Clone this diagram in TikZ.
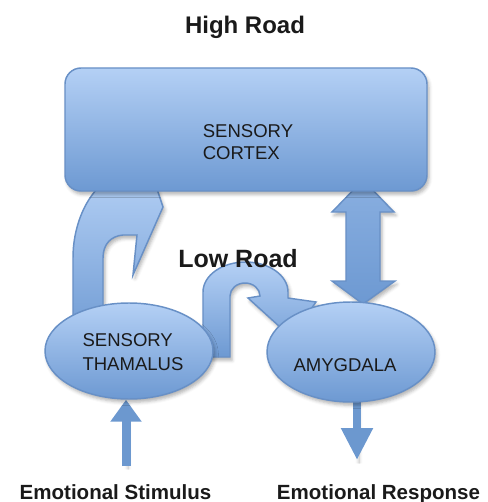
\documentclass[tikz,border=0pt]{standalone}
\usepackage{fontspec}
\setmainfont{Liberation Sans}
\usetikzlibrary{shapes.geometric,arrows.meta,shadows.blur}
\pgfdeclarelayer{bg}
\pgfsetlayers{bg,main}

\definecolor{boxtop}{HTML}{B4D0F5}
\definecolor{boxbot}{HTML}{6D99D2}
\definecolor{edgeblue}{HTML}{6890C6}
\definecolor{arrowblue}{HTML}{6C98CF}
\definecolor{ink}{HTML}{1A1A1A}

\begin{document}
\begin{tikzpicture}[x=0.75pt,y=-0.75pt,
  softshadow/.style={blur shadow={shadow xshift=1.5pt, shadow yshift=-2.5pt,
      shadow blur radius=2.5pt, shadow opacity=30}},
  region/.style={draw=edgeblue, line width=1.1pt, top color=boxtop,
      bottom color=boxbot, softshadow},
  blockarrow/.style={draw=edgeblue, line width=1.1pt, top color=boxtop,
      bottom color=boxbot, softshadow},
  thinarrow/.style={draw=arrowblue, fill=arrowblue, softshadow},
  bodytext/.style={text=ink, inner sep=0pt, align=left,
      font=\fontsize{13.9pt}{16.5pt}\selectfont},
  headtext/.style={text=ink, inner sep=0pt, font=\bfseries\fontsize{18pt}{20pt}\selectfont},
  endtext/.style={text=ink, inner sep=0pt, font=\bfseries\fontsize{15.4pt}{18pt}\selectfont}]

\useasboundingbox (0,0) rectangle (487,502);

% brain regions
\node[region, rounded corners=12pt, minimum width=271.5pt, minimum height=92.25pt]
  (cortex) at (246,129.5) {};
\node[region, ellipse, minimum width=126pt, minimum height=72pt] (thal) at (129,351) {};
\node[region, ellipse, minimum width=126pt, minimum height=75pt] (amyg) at (351,352) {};

% region names
\node[bodytext] (cortextext) at (248,142.5) {SENSORY\\CORTEX};
\node[bodytext, font=\fontsize{13.9pt}{18pt}\selectfont] (thaltext) at (133,352.5) {SENSORY\\THAMALUS};
\node[bodytext] (amygtext) at (345,365) {AMYGDALA};

% road titles and end labels
\node[headtext, anchor=base] (high) at (245,34) {High Road};
\node[headtext, font=\bfseries\fontsize{18.75pt}{20pt}\selectfont, anchor=base] (low) at (238,267) {Low Road};
\node[endtext, anchor=base] (stim) at (115.5,499.5) {Emotional Stimulus};
\node[endtext, anchor=base] (resp) at (378.5,499.5) {Emotional Response};

\coordinate (stimtail) at (126,466);
\coordinate (resptip) at (357,460);

\begin{pgfonlayer}{bg}
  % high road: curved arrow from the thalamus up into the cortex
  \path[blockarrow] (73,345) -- (73,258) .. controls (73,228) and (84,203) .. (97,189)
    -- (118,172) -- (150,172) -- (158,192) -- (163,207) -- (133,275) -- (137,235)
    -- (123,235) .. controls (111,236) and (103,244) .. (103,258) -- (103,345) -- cycle;

  % low road: arch from the thalamus over to the amygdala
  \path[blockarrow] (230,357) -- (230,296)
    arc[start angle=180, end angle=360, x radius=15, y radius=13]
    -- (248,298) -- (291,337) -- (316,302) -- (288,298) -- (288,292)
    arc[start angle=0, end angle=-180, x radius=42.5, y radius=30]
    -- (203,357) -- cycle;

  % two-way link between cortex and amygdala
  \path[blockarrow, top color=boxbot!60!boxtop, middle color=boxtop!90!white, bottom color=boxbot]
    (363,180) -- (394,212) -- (380,212) -- (380,281) -- (395,281) -- (363,304)
    -- (332,281) -- (346,281) -- (346,212) -- (332,212) -- cycle;

  % stimulus in, response out
  \draw[thinarrow, line width=6.75pt, -{Triangle[length=16.5pt,width=22.5pt]}]
    (stimtail) -- (stimtail |- thal.south);
  \draw[thinarrow, line width=6pt, -{Triangle[length=24pt,width=22.5pt]}]
    (resptip |- amyg.center) -- (resptip);
\end{pgfonlayer}
\end{tikzpicture}
\end{document}
